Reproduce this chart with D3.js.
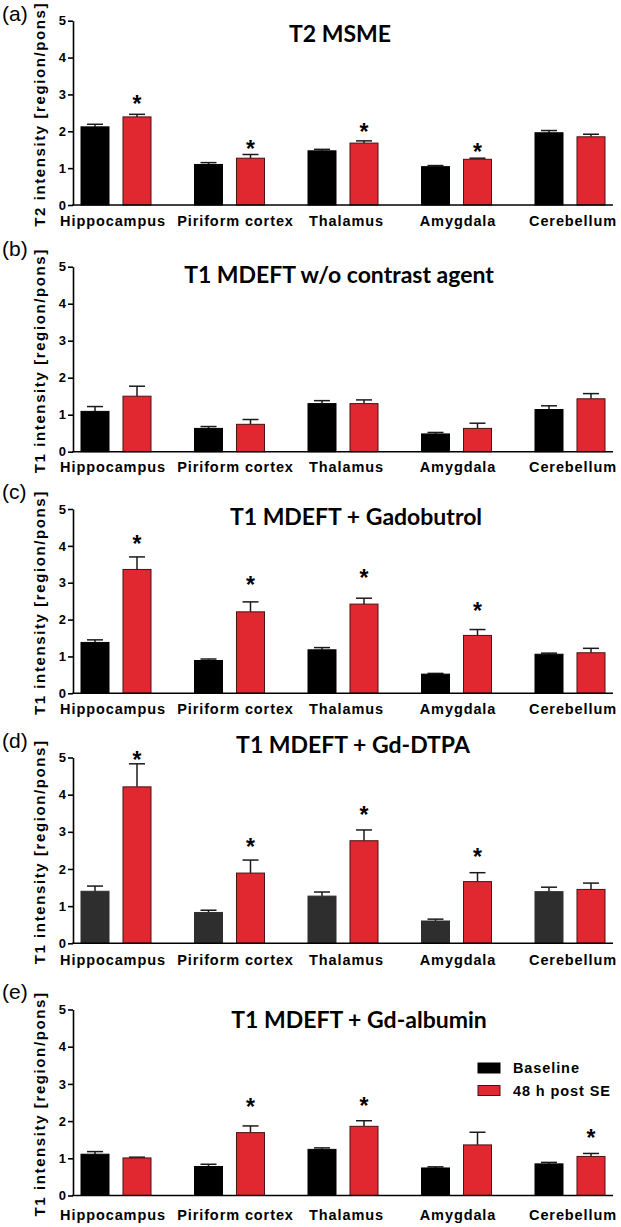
<!DOCTYPE html>
<html><head><meta charset="utf-8">
<script src="https://cdn.jsdelivr.net/npm/d3@7"></script>
<style>
html,body{margin:0;padding:0;background:#fff;}
svg{display:block;}
</style></head>
<body>
<svg id="chart" width="621" height="1227"></svg>
<script>
// ---------- DATA ----------
const categories = ["Hippocampus", "Piriform cortex", "Thalamus", "Amygdala", "Cerebellum"];
const seriesNames = ["Baseline", "48 h post SE"];
const yTicks = [0, 1, 2, 3, 4, 5];
const panelTags = ["(a)", "(b)", "(c)", "(d)", "(e)"];
const panelTitles = ["T2 MSME", "T1 MDEFT w/o contrast agent", "T1 MDEFT + Gadobutrol", "T1 MDEFT + Gd-DTPA", "T1 MDEFT + Gd-albumin"];
const yTitles = ["T2 intensity [region/pons]", "T1 intensity [region/pons]", "T1 intensity [region/pons]", "T1 intensity [region/pons]", "T1 intensity [region/pons]"];

// (a) T2 MSME
const baseA = [2.12, 1.10, 1.47, 1.04, 1.96];
const baseErrA = [0.07, 0.05, 0.04, 0.03, 0.06];
const postA = [2.39, 1.27, 1.68, 1.24, 1.85];
const postErrA = [0.07, 0.10, 0.06, 0.03, 0.07];
const starA = [2.87, 1.67, 2.12, 1.58, null];
// (b) T1 MDEFT w/o contrast agent
const baseB = [1.09, 0.63, 1.30, 0.48, 1.14];
const baseErrB = [0.13, 0.05, 0.08, 0.04, 0.10];
const postB = [1.50, 0.74, 1.30, 0.63, 1.43];
const postErrB = [0.27, 0.13, 0.10, 0.14, 0.14];
const starB = [null, null, null, null, null];
// (c) T1 MDEFT + Gadobutrol
const baseC = [1.38, 0.89, 1.18, 0.52, 1.06];
const baseErrC = [0.07, 0.04, 0.06, 0.02, 0.03];
const postC = [3.36, 2.21, 2.42, 1.57, 1.10];
const postErrC = [0.34, 0.27, 0.16, 0.16, 0.12];
const starC = [4.19, 3.07, 3.27, 2.38, null];
// (d) T1 MDEFT + Gd-DTPA
const baseD = [1.40, 0.83, 1.27, 0.60, 1.39];
const baseErrD = [0.14, 0.06, 0.11, 0.05, 0.12];
const postD = [4.21, 1.89, 2.76, 1.66, 1.45];
const postErrD = [0.62, 0.35, 0.29, 0.24, 0.17];
const starD = [5.07, 2.73, 3.59, 2.47, null];
// (e) T1 MDEFT + Gd-albumin
const baseE = [1.11, 0.78, 1.24, 0.74, 0.85];
const baseErrE = [0.07, 0.06, 0.04, 0.03, 0.04];
const postE = [1.01, 1.69, 1.86, 1.36, 1.05];
const postErrE = [0.02, 0.18, 0.15, 0.34, 0.08];
const starE = [null, 2.52, 2.55, null, 1.69];

const panelData = [
  {base: baseA, baseErr: baseErrA, post: postA, postErr: postErrA, star: starA},
  {base: baseB, baseErr: baseErrB, post: postB, postErr: postErrB, star: starB},
  {base: baseC, baseErr: baseErrC, post: postC, postErr: postErrC, star: starC},
  {base: baseD, baseErr: baseErrD, post: postD, postErr: postErrD, star: starD},
  {base: baseE, baseErr: baseErrE, post: postE, postErr: postErrE, star: starE}
];

// ---------- LAYOUT ----------
const layout = [
  {top: 20.7,  bottom: 205,   tagY: 21,   titleX: 340, titleY: 42,   labelDy: 20.5, baseColor: "#000"},
  {top: 266.7, bottom: 451.7, tagY: 256,  titleX: 339, titleY: 283,  labelDy: 20.5, baseColor: "#000"},
  {top: 509,   bottom: 693.3, tagY: 499,  titleX: 356, titleY: 525,  labelDy: 20.5, baseColor: "#000"},
  {top: 757.5, bottom: 943.3, tagY: 748,  titleX: 353, titleY: 753,  labelDy: 22,   baseColor: "#2e2e2e"},
  {top: 1009.5,bottom: 1195.5,tagY: 999,  titleX: 359, titleY: 1028, labelDy: 24,   baseColor: "#000"}
];
const labelShift = [-3, 6, 3.5, 1.5, 3];
const axisX = 73, axisEnd = 613;
const redColor = "#e1272f";

const svg = d3.select("#chart");
const x0 = d3.scaleBand().domain(categories).range([59.25, 626.75]);
const x1 = d3.scaleBand().domain(seriesNames).range([-35.5, 35.5]).paddingInner(0.3095);
const bw = x1.bandwidth();

panelData.forEach((pd, i) => {
  const L = layout[i];
  const g = svg.append("g");
  const y = d3.scaleLinear().domain([0, 5]).range([L.bottom, L.top]);

  // panel tag
  g.append("text").attr("x", 2).attr("y", L.tagY)
    .attr("font-family", "Liberation Sans, Arial, sans-serif").attr("font-size", 21)
    .attr("fill", "#000").text(panelTags[i]);

  // title
  g.append("text").attr("x", L.titleX).attr("y", L.titleY).attr("text-anchor", "middle")
    .attr("font-family", "Lato, Open Sans, sans-serif").attr("font-weight", 700).attr("font-size", 23)
    .attr("fill", "#000").text(panelTitles[i]);

  // y title
  g.append("text")
    .attr("transform", `translate(45,${(L.top + L.bottom) / 2 + 1.5}) rotate(-90)`)
    .attr("text-anchor", "middle")
    .attr("font-family", "Liberation Sans, Arial, sans-serif").attr("font-weight", 700).attr("font-size", 15)
    .attr("letter-spacing", 1.6)
    .attr("fill", "#000").text(yTitles[i]);

  const rows = categories.map((c, k) => [
    {cat: c, s: seriesNames[0], v: pd.base[k], e: pd.baseErr[k], star: null},
    {cat: c, s: seriesNames[1], v: pd.post[k], e: pd.postErr[k], star: pd.star[k]}
  ]).flat();

  const cx = d => x0(d.cat) + x0.bandwidth() / 2 + x1(d.s);

  // error bars (upper only)
  const eg = g.append("g").attr("stroke", "#1a1a1a").attr("stroke-width", 1.5);
  eg.selectAll("line.stem").data(rows).join("line").attr("class", "stem")
    .attr("x1", d => cx(d) + bw / 2).attr("x2", d => cx(d) + bw / 2)
    .attr("y1", d => y(d.v)).attr("y2", d => y(d.v + d.e));
  eg.selectAll("line.cap").data(rows).join("line").attr("class", "cap")
    .attr("x1", d => cx(d) + bw / 2 - 8).attr("x2", d => cx(d) + bw / 2 + 8)
    .attr("y1", d => y(d.v + d.e)).attr("y2", d => y(d.v + d.e));

  // bars
  g.selectAll("rect.bar").data(rows).join("rect").attr("class", "bar")
    .attr("x", d => cx(d) + 0.5).attr("width", bw - 1)
    .attr("y", d => y(d.v)).attr("height", d => y(0) - y(d.v))
    .attr("fill", d => d.s === seriesNames[0] ? L.baseColor : redColor)
    .attr("stroke", d => d.s === seriesNames[0] ? L.baseColor : "#4a1214")
    .attr("stroke-width", 1);

  // stars
  const fs = 23;
  g.selectAll("text.star").data(rows.filter(d => d.star != null)).join("text").attr("class", "star")
    .attr("x", d => cx(d) + bw / 2).attr("y", d => y(d.star) + 0.57 * fs)
    .attr("text-anchor", "middle")
    .attr("font-family", "Liberation Sans, Arial, sans-serif").attr("font-weight", 700).attr("font-size", fs)
    .attr("fill", "#000").text("*");

  // y axis
  const ya = g.append("g").attr("transform", `translate(${axisX},0)`)
    .call(d3.axisLeft(y).tickValues(yTicks).tickSize(5).tickSizeOuter(0).tickPadding(2).tickFormat(d3.format("d")));
  ya.select(".domain").attr("stroke", "#000").attr("stroke-width", 1.6);
  ya.selectAll(".tick line").attr("stroke", "#000").attr("stroke-width", 1.6);
  ya.selectAll(".tick text").attr("font-family", "Liberation Sans, Arial, sans-serif")
    .attr("font-weight", 700).attr("font-size", 13).attr("fill", "#000");

  // x axis line
  g.append("line").attr("x1", axisX - 0.8).attr("x2", axisEnd).attr("y1", L.bottom).attr("y2", L.bottom)
    .attr("stroke", "#000").attr("stroke-width", 1.6);

  // x labels
  const xa = g.append("g").attr("transform", `translate(0,${L.bottom})`)
    .call(d3.axisBottom(x0).tickSize(0).tickPadding(0));
  xa.select(".domain").remove();
  xa.selectAll(".tick text").attr("dy", null).attr("y", L.labelDy)
    .attr("x", (d, k) => labelShift[k])
    .attr("font-family", "Liberation Sans, Arial, sans-serif").attr("font-weight", 700)
    .attr("font-size", 14.5).attr("letter-spacing", 0.9).attr("fill", "#000");
});

// legend (panel e)
const legY = [1068, 1090.5];
const legColors = ["#000", redColor];
const legStroke = ["#000", "#4a1214"];
const lg = svg.append("g");
seriesNames.forEach((s, k) => {
  lg.append("rect").attr("x", 478).attr("y", legY[k] - 5).attr("width", 22).attr("height", 10)
    .attr("fill", legColors[k]).attr("stroke", legStroke[k]).attr("stroke-width", 1);
  lg.append("text").attr("x", 513).attr("y", legY[k] + 5)
    .attr("font-family", "Liberation Sans, Arial, sans-serif").attr("font-weight", 700)
    .attr("font-size", 14.5).attr("letter-spacing", 0.9).attr("fill", "#000").text(s);
});
</script>
</body></html>
